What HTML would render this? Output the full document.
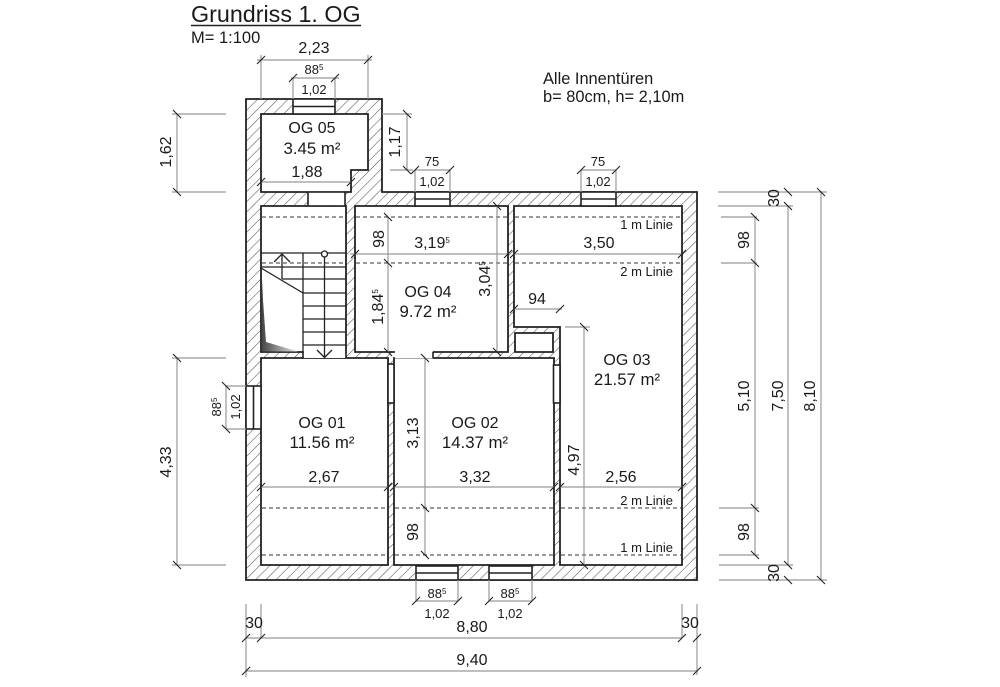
<!DOCTYPE html>
<html><head><meta charset="utf-8"><style>
html,body{margin:0;padding:0;background:#fff}
svg{display:block}
text{font-family:"Liberation Sans",sans-serif;fill:#1a1a1a;font-size:16px;text-anchor:middle}
.a{font-size:16.8px}
.s{font-size:13px}
.l{font-size:16.4px;text-anchor:start}
.e{font-size:13px;text-anchor:end}
tspan.u{font-size:8px}
</style></head><body>
<svg width="1000" height="687" viewBox="0 0 1000 687" xmlns="http://www.w3.org/2000/svg">
<defs><pattern id="h" width="7.2" height="7.2" patternUnits="userSpaceOnUse" patternTransform="rotate(45)"><rect width="7.2" height="7.2" fill="#fff"/><line x1="0" y1="0" x2="0" y2="7.2" stroke="#555" stroke-width="1.1"/></pattern>
<linearGradient id="g" x1="0" y1="0" x2="1" y2="0"><stop offset="0" stop-color="#444"/><stop offset="0.5" stop-color="#999"/><stop offset="1" stop-color="#e5e5e5"/></linearGradient></defs>

<!-- walls -->
<path fill="url(#h)" fill-rule="evenodd" stroke="#222" stroke-width="1.8" d="M246 99H382V192H697V580H246Z
M261 114H368V170H351V192H261Z
M261 206H346V352H261Z
M355 206H508V352H355Z
M514 206H682V565H560V327H514Z
M515 333H553V352H515Z
M261 358H388V565H261Z
M394 358H554V565H394Z"/>
<!-- openings -->
<g fill="#fff" stroke="#222" stroke-width="1.6">
<rect x="293" y="99" width="42" height="15"/><path d="M293 106.500H335" fill="none"/>
<rect x="415" y="192" width="35" height="14"/><path d="M415 199H450" fill="none"/>
<rect x="581" y="192" width="35" height="14"/><path d="M581 199H616" fill="none"/>
<rect x="416" y="566" width="42" height="14"/><path d="M416 573H458" fill="none"/>
<rect x="489" y="566" width="43" height="14"/><path d="M489 573H532" fill="none"/>
<rect x="246" y="386" width="15" height="43"/><path d="M253.500 386V429" fill="none"/>
<rect x="388" y="364" width="6" height="39"/>
<rect x="553.500" y="365" width="6.500" height="38"/>
</g>
<g fill="#fff" stroke="none">
<rect x="308.900" y="192.900" width="36.200" height="12.200"/>
<rect x="303.800" y="351" width="41.400" height="7"/>
<rect x="394.900" y="351" width="37.900" height="7.500"/>
</g>
<path d="M308 192V206M345 192V206M303 352V358M346 352V358M433 352V358" stroke="#222" stroke-width="1.6" fill="none"/>

<!-- stairs -->
<polygon points="261.500,268 263,300 266,342 298,351.500 261.500,351.500" fill="url(#g)"/>
<path d="M261 253H346M261 267H346M282 279H346M303 293H346M303 306H346M303 319H346M303 332H346M303 345H346M303 253V352M261 268L303 293M324.500 257V358M282 279V255" stroke="#222" stroke-width="1.300" fill="none"/>
<path d="M274 262L282 254L290 262M317 350L324.500 357.500L332 350" stroke="#222" stroke-width="1.300" fill="none"/>
<circle cx="324.500" cy="254" r="3" fill="#fff" stroke="#222" stroke-width="1.300"/>

<!-- dashed -->
<path d="M262 217H345M356 217H507M515 217H681M262 263H345M356 263H507M515 263H681M262 508H387M395 508H553M561 508H681M262 555H387M395 555H553M561 555H681" stroke="#333" stroke-width="1" stroke-dasharray="4 3" fill="none"/>

<!-- dimension lines -->
<path stroke="#999" stroke-width="1.2" fill="none" d="M257 60H372M261 55V99M368 55V99M291 78H339M293 78V99M335 78V99
M172 114H226M172 192H226M177 114V192M172 358H226M172 565H226M177 358V565
M226 386V429M226 386H246M226 429H246
M382 114H412M390 170H413M407 114V170
M415 170H450M415 170V192M450 170V192M581 170H616M581 170V192M616 170V192
M416 601H458M416 580V601M458 580V601M489 601H532M489 580V601M532 580V601
M246 604V677M261 604V638M682 604V638M697 604V675M246 638H682M246 671H697
M718 192H827M718 206H793M721 217H757M721 263H757M719 508H759M719 555H759M719 565H793M719 580H827
M755 217V555M788 206V565M821 192V580
M350 254H508M514 254H682M261 182H351M388 217V352M497 206V352M514 309H562M565 327H590M584 327V565M425 358V555
M261 487H388M394 487H554M560 487H682"/>

<!-- ticks -->
<path stroke="#222" stroke-width="1.1" fill="none" d="
M257 64L265 56M364 64L372 56M289 82L297 74M331 82L339 74
M173 110L181 118M173 188L181 196M173 354L181 362M173 561L181 569
M222 382L230 390M222 425L230 433
M403 110L411 118M403 166L411 174
M411 174L419 166M446 174L454 166M577 174L585 166M612 174L620 166
M412 605L420 597M454 605L462 597M485 605L493 597M528 605L536 597
M242 642L250 634M257 642L265 634M678 642L686 634M693 642L701 634M242 675L250 667M693 675L701 667
M784 188L792 196M817 188L825 196M784 202L792 210M751 213L759 221M751 259L759 267M751 504L759 512M751 551L759 559M784 561L792 569M784 576L792 584M817 576L825 584
M351 258L359 250M504 258L512 250M510 258L518 250M678 258L686 250M257 186L265 178M347 186L355 178
M384 213L392 221M384 259L392 267M384 348L392 356M493 202L501 210M493 348L501 356
M510 313L518 305M556 313L564 305M580 323L588 331M580 561L588 569
M421 354L429 362M421 504L429 512M421 551L429 559
M257 491L265 483M384 491L392 483M390 491L398 483M550 491L558 483M556 491L564 483M678 491L686 483"/>

<!-- title -->
<text x="191" y="22" style="font-size:23.300px;text-anchor:start">Grundriss 1. OG</text>
<path d="M191 25.500H361" stroke="#222" stroke-width="1.500"/>
<text x="191" y="43" style="font-size:16.500px;text-anchor:start">M= 1:100</text>
<text class="l" x="543" y="84">Alle Innentüren</text>
<text class="l" x="543" y="102">b= 80cm, h= 2,10m</text>

<!-- room labels -->
<text x="312" y="133">OG 05</text><text class="a" x="312" y="154">3.45 m²</text><text x="307" y="177">1,88</text>
<text x="428" y="297">OG 04</text><text class="a" x="428" y="317">9.72 m²</text>
<text x="627" y="365">OG 03</text><text class="a" x="627" y="385">21.57 m²</text>
<text x="322" y="428">OG 01</text><text class="a" x="322" y="448">11.56 m²</text>
<text x="475" y="428">OG 02</text><text class="a" x="475" y="448">14.37 m²</text>

<!-- horizontal dims -->
<text x="314" y="53">2,23</text>
<text class="s" x="314" y="74">88<tspan class="u" dy="-4">5</tspan></text>
<text class="s" x="314" y="94">1,02</text>
<text class="s" x="432" y="166">75</text><text class="s" x="432" y="186">1,02</text>
<text class="s" x="598" y="166">75</text><text class="s" x="598" y="186">1,02</text>
<text class="s" x="437" y="598">88<tspan class="u" dy="-4">5</tspan></text><text class="s" x="437" y="618">1,02</text>
<text class="s" x="510" y="598">88<tspan class="u" dy="-4">5</tspan></text><text class="s" x="510" y="618">1,02</text>
<text x="254" y="628">30</text><text x="690" y="628">30</text>
<text x="472" y="632">8,80</text><text x="472" y="665">9,40</text>
<text x="432" y="248">3,19<tspan class="u" dy="-5">5</tspan></text>
<text x="599" y="248">3,50</text>
<text x="537" y="304">94</text>
<text x="324" y="482">2,67</text><text x="475" y="482">3,32</text><text x="621" y="482">2,56</text>
<text class="e" x="673" y="229">1 m Linie</text><text class="e" x="673" y="276">2 m Linie</text>
<text class="e" x="673" y="505">2 m Linie</text><text class="e" x="673" y="552">1 m Linie</text>

<!-- rotated dims -->
<text transform="translate(171 152) rotate(-90)">1,62</text>
<text transform="translate(171 462) rotate(-90)">4,33</text>
<text class="s" transform="translate(240 407) rotate(-90)">1,02</text>
<text class="s" transform="translate(221 407) rotate(-90)">88<tspan class="u" dy="-4">5</tspan></text>
<text transform="translate(400 142) rotate(-90)">1,17</text>
<text transform="translate(384 239) rotate(-90)">98</text>
<text transform="translate(383 307) rotate(-90)">1,84<tspan class="u" dy="-5">5</tspan></text>
<text transform="translate(490 279) rotate(-90)">3,04<tspan class="u" dy="-5">5</tspan></text>
<text transform="translate(579 460) rotate(-90)">4,97</text>
<text transform="translate(418 433) rotate(-90)">3,13</text>
<text transform="translate(418 532) rotate(-90)">98</text>
<text transform="translate(779 198) rotate(-90)">30</text>
<text transform="translate(749 240) rotate(-90)">98</text>
<text transform="translate(749 396) rotate(-90)">5,10</text>
<text transform="translate(749 532) rotate(-90)">98</text>
<text transform="translate(779 573) rotate(-90)">30</text>
<text transform="translate(783 396) rotate(-90)">7,50</text>
<text transform="translate(815 396) rotate(-90)">8,10</text>
</svg>
</body></html>
